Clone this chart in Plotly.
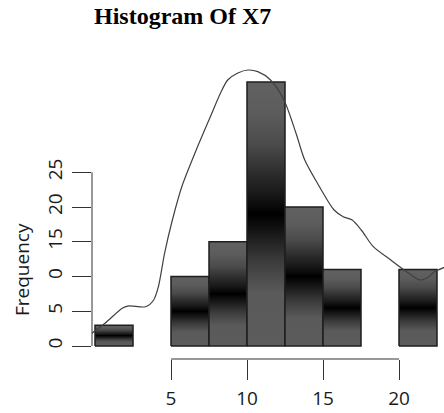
import plotly.graph_objects as go

# Histogram bins (width 2.5) and their counts
bin_edges = [0, 2.5, 5, 7.5, 10, 12.5, 15, 17.5, 20, 22.5]
counts = [3, 0, 10, 15, 38, 20, 11, 0, 11]

# Kernel density curve, scaled to frequency units
kde_x = [-0.68, -0.46, 0.68, 1.82, 2.25, 3.33, 3.86, 4.17, 4.58, 5.09, 5.71,
         6.66, 7.59, 8.26, 8.73, 9.40, 10.06, 10.71, 11.55, 12.43, 13.22,
         13.80, 14.77, 15.73, 16.33, 16.92, 17.52, 18.31, 19.46, 20.62,
         21.39, 21.96, 22.31, 23.2]
kde_y = [0.43, 1.34, 3.31, 5.47, 5.76, 5.65, 6.62, 8.53, 13.38, 18.13, 22.92,
         28.20, 32.99, 36.40, 38.27, 39.28, 39.71, 39.47, 38.27, 35.40, 30.65,
         26.76, 22.92, 19.57, 18.60, 18.13, 16.69, 14.29, 12.37, 10.50,
         9.50, 9.97, 10.65, 11.5]

x_ticks = [5, 10, 15, 20]
y_ticks = [0, 5, 10, 15, 20, 25]
y_tick_labels = ["0", "5", "0", "15", "20", "25"]

W, H = 444, 413
AXIS_X_PX = 92      # left axis position
AXIS_Y_PX = 359     # bottom axis position
X0_PX, X_SCALE = 95, 15.2
BASE_PX, Y_SCALE = 346, 6.95

bar_scale = [
    [0.00, "#5c5c5c"], [0.20, "#5a5a5a"], [0.32, "#3c3c3c"],
    [0.42, "#1a1a1a"], [0.50, "#000000"], [0.58, "#1a1a1a"],
    [0.66, "#2e2e2e"], [0.76, "#4a4a4a"], [0.88, "#5c5c5c"],
    [1.00, "#616161"],
]

fig = go.Figure()

for left, right, c in zip(bin_edges[:-1], bin_edges[1:], counts):
    if c <= 0:
        continue
    fig.add_trace(go.Scatter(
        x=[left, left, right, right, left],
        y=[0, c, c, 0, 0],
        mode="lines",
        fill="toself",
        fillgradient=dict(type="vertical", colorscale=bar_scale,
                          start=0, stop=c),
        line=dict(color="#1e1e1e", width=1.5),
        hoverinfo="skip",
        showlegend=False,
    ))

fig.add_trace(go.Scatter(
    x=kde_x, y=kde_y, mode="lines",
    line=dict(color="#404040", width=1.2, shape="spline", smoothing=0.8),
    hoverinfo="skip", showlegend=False,
))

x_dom0 = AXIS_X_PX / W
x_range = [(AXIS_X_PX - X0_PX) / X_SCALE, (W - X0_PX) / X_SCALE]
y_dom0 = (H - AXIS_Y_PX) / H
y_range = [(BASE_PX - AXIS_Y_PX) / Y_SCALE, BASE_PX / Y_SCALE]

tick_font = dict(family="Open Sans", size=19, color="#1a1a1a")

fig.update_layout(
    width=W, height=H,
    margin=dict(l=0, r=0, t=0, b=0),
    paper_bgcolor="white", plot_bgcolor="white",
    xaxis=dict(domain=[x_dom0, 1], range=x_range, tickvals=x_ticks,
               ticks="outside", ticklen=20, tickwidth=1, tickcolor="#333333",
               showline=False, showgrid=False, zeroline=False,
               tickfont=tick_font, ticklabelstandoff=2),
    yaxis=dict(domain=[y_dom0, 1], range=y_range, tickvals=y_ticks,
               ticktext=y_tick_labels, tickangle=-90,
               ticks="outside", ticklen=19, tickwidth=1, tickcolor="#333333",
               showline=False, showgrid=False, zeroline=False,
               tickfont=tick_font, ticklabelstandoff=2),
    shapes=[
        dict(type="line", xref="x", yref="paper", x0=x_ticks[0], x1=x_ticks[-1],
             y0=y_dom0, y1=y_dom0, line=dict(color="#333333", width=1)),
        dict(type="line", xref="paper", yref="y", x0=x_dom0, x1=x_dom0,
             y0=y_ticks[0], y1=y_ticks[-1], line=dict(color="#333333", width=1)),
    ],
    annotations=[
        dict(text="<b>Histogram Of X7</b>", xref="paper", yref="paper",
             x=182 / W, y=1 - 16 / H, showarrow=False,
             xanchor="center", yanchor="middle",
             font=dict(family="Liberation Serif", size=24, color="black")),
        dict(text="Frequency", xref="paper", yref="paper",
             x=22 / W, y=1 - 270 / H, showarrow=False, textangle=-90,
             xanchor="center", yanchor="middle",
             font=dict(family="Open Sans", size=19, color="#1a1a1a")),
    ],
)

fig.write_html("out.html")
